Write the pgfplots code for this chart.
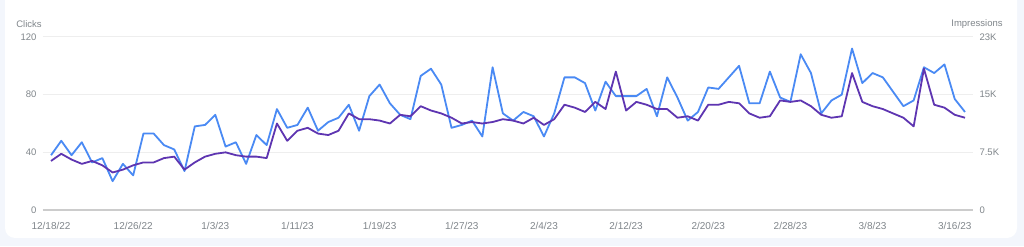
\documentclass[border=0pt]{standalone}
\usepackage{pgfplots}
\pgfplotsset{compat=1.18}
\usepackage{pgfplotstable}
\usepackage{fontspec}
\setmainfont{Liberation Sans}
\definecolor{clk}{HTML}{4A8AF4}
\definecolor{imp}{HTML}{5E35B1}
\definecolor{lbl}{HTML}{80868B}
\definecolor{grd}{HTML}{EEEEEE}
\definecolor{basel}{HTML}{CCCCCC}
\definecolor{pagebg}{HTML}{F3F6FC}

\pgfplotstableread{
i c m
0 38 6380
1 48 7310
2 38 6560
3 47 6000
4 33 6380
5 36 5810
6 20 4880
7 32 5250
8 24 5810
9 53 6190
10 53 6190
11 45 6750
12 42 6940
13 27 5250
14 58 6190
15 59 6940
16 66 7310
17 44 7500
18 47 7130
19 32 6940
20 52 6940
21 45 6750
22 70 11250
23 57 9000
24 59 10310
25 71 10690
26 55 9940
27 61 9750
28 64 10310
29 73 12560
30 55 11810
31 79 11810
32 87 11630
33 74 11250
34 66 12380
35 63 12190
36 93 13500
37 98 12940
38 87 12560
39 57 12000
40 59 11250
41 62 11440
42 51 11250
43 99 11440
44 67 11810
45 62 11630
46 68 11250
47 65 12000
48 51 11060
49 67 11810
50 92 13690
51 92 13310
52 88 12750
53 69 14060
54 89 13130
55 79 18000
56 79 12940
57 79 14060
58 84 13690
59 65 13130
60 92 13130
61 78 12000
62 62 12190
63 68 11630
64 85 13690
65 84 13690
66 92 14060
67 100 13880
68 74 12560
69 74 12000
70 96 12190
71 78 14250
72 75 14060
73 108 14250
74 95 13500
75 67 12380
76 76 12000
77 80 12190
78 112 17810
79 88 14060
80 95 13500
81 92 13130
82 82 12560
83 72 12000
84 76 10880
85 99 18380
86 95 13690
87 101 13310
88 77 12380
89 68 12000
}\gsc

\begin{document}
\begin{tikzpicture}[x=1pt,y=1pt]
\useasboundingbox (0,0) rectangle (1024,246);
\begin{scope}
\clip (0,0) rectangle (1024,246);
\fill[pagebg] (0,0) rectangle (1024,246);
\fill[white, rounded corners=10pt] (5,8) rectangle (1017,280);
\end{scope}
\node[text=lbl, font=\fontsize{9.5}{11}\selectfont] at (29,222) {Clicks};
\node[text=lbl, font=\fontsize{9.5}{11}\selectfont] at (977,222) {Impressions};

\begin{axis}[
  at={(43pt,36pt)}, anchor=south west,
  scale only axis, width=930pt, height=173pt,
  xmin=-0.78, xmax=89.78, ymin=0, ymax=120,
  axis x line*=bottom, axis y line*=left,
  x axis line style={draw=basel, line width=1.3pt, -},
  y axis line style={draw=none},
  major tick length=0pt,
  xtick={0,8,...,88},
  xticklabels={12/18/22,12/26/22,1/3/23,1/11/23,1/19/23,1/27/23,2/4/23,2/12/23,2/20/23,2/28/23,3/8/23,3/16/23},
  ytick={0,40,80,120},
  yticklabels={0,40,80,120},
  scaled y ticks=false,
  ymajorgrids, grid style={draw=grd, line width=1pt},
  xticklabel style={font=\fontsize{10}{12}\selectfont, text=lbl, yshift=-9pt},
  yticklabel style={font=\fontsize{9.5}{11}\selectfont, text=lbl, xshift=-3pt},
  clip=false,
]
\addplot[clk, line width=1.8pt, line join=round] table[x=i, y=c] {\gsc};
\end{axis}

\begin{axis}[
  at={(43pt,36pt)}, anchor=south west,
  scale only axis, width=930pt, height=173pt,
  xmin=-0.78, xmax=89.78, ymin=0, ymax=22500,
  hide x axis,
  axis y line*=right,
  y axis line style={draw=none},
  major tick length=0pt,
  ytick={0,7500,15000,22500},
  yticklabels={0,7.5K,15K,23K},
  scaled y ticks=false,
  yticklabel style={font=\fontsize{9.5}{11}\selectfont, text=lbl, xshift=3pt},
  clip=false,
]
\addplot[imp, line width=1.8pt, line join=round] table[x=i, y=m] {\gsc};
\end{axis}
\end{tikzpicture}
\end{document}
